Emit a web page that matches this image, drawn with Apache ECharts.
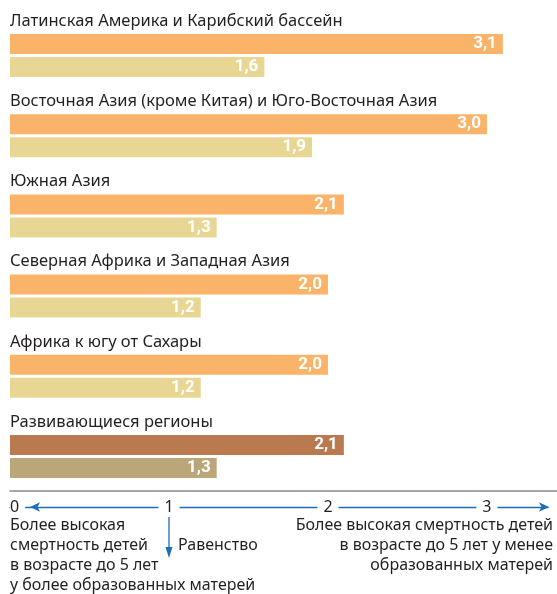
<!DOCTYPE html>
<html>
<head>
<meta charset="utf-8">
<script src="https://cdn.jsdelivr.net/npm/echarts@6/dist/echarts.min.js"></script>
<style>
  html, body { margin: 0; padding: 0; background: #fff; }
  #chart { width: 557px; height: 594px; }
</style>
</head>
<body>
<div id="chart"></div>
<script>
const categories = [
  'Латинская Америка и Карибский бассейн',
  'Восточная Азия (кроме Китая) и Юго-Восточная Азия',
  'Южная Азия',
  'Северная Африка и Западная Азия',
  'Африка к югу от Сахары',
  'Развивающиеся регионы'
]
// less educated mothers vs. more educated mothers
const lessEducated = [3.1, 3.0, 2.1, 2.0, 2.0, 2.1]
const moreEducated = [1.6, 1.9, 1.3, 1.2, 1.2, 1.3]
const ticks = [0, 1, 2, 3]

const FONT = '"Noto Sans", sans-serif'
const NUM_FONT = '"Liberation Sans Narrow", Roboto, sans-serif'
const BLUE = '#1f6db4'
const INK = '#231f20'

const chart = echarts.init(document.getElementById('chart'))

function fmt(v) {
  return v.toFixed(1).replace('.', ',')
}

function barSeries(name, values, color, lastColor) {
  return {
    name,
    type: 'bar',
    barWidth: 20,
    barGap: '15%',
    data: values.map((v, i) => ({
      value: v,
      itemStyle: { color: i === values.length - 1 ? lastColor : color }
    })),
    label: {
      show: true,
      position: 'insideRight',
      distance: 6,
      color: '#fff',
      fontFamily: NUM_FONT,
      fontWeight: 'bold',
      fontSize: 17,
      formatter: p => fmt(p.value)
    },
    silent: true
  }
}

chart.setOption({
  animation: false,
  grid: [
    { left: 10, right: 9, top: 15.4, height: 481.2 },
    { left: 10, right: 0, top: 491, height: 1 }
  ],
  xAxis: [
    {
      gridIndex: 0,
      type: 'value',
      min: 0,
      max: 3.384,
      interval: 1,
      position: 'bottom',
      offset: 10.4,
      splitLine: { show: false },
      axisTick: { show: false },
      axisLine: {
        show: true,
        symbol: ['arrow', 'arrow'],
        symbolSize: [7, 10],
        symbolOffset: [20, 1],
        lineStyle: { color: BLUE, width: 1.3 }
      },
      axisLabel: {
        showMaxLabel: false,
        alignMinLabel: 'left',
        margin: 0,
        verticalAlign: 'middle',
        formatter: v => (ticks.includes(v) ? (v === 0 ? '{z|0}' : '{n|' + v + '}') : ''),
        rich: {
          z: { fontFamily: FONT, fontSize: 16, color: INK, backgroundColor: '#fff', padding: [2, 6, 2, 0] },
          n: { fontFamily: FONT, fontSize: 16, color: INK, backgroundColor: '#fff', padding: [2, 6, 2, 6] }
        }
      }
    },
    {
      gridIndex: 1,
      type: 'value',
      position: 'top',
      axisLine: { show: true, lineStyle: { color: '#8a8a8a', width: 1.5 } },
      axisLabel: { show: false },
      axisTick: { show: false },
      splitLine: { show: false }
    }
  ],
  yAxis: [
    {
      gridIndex: 0,
      type: 'category',
      data: categories,
      inverse: true,
      axisLine: { show: false },
      axisTick: { show: false },
      axisLabel: {
        inside: true,
        margin: 0,
        align: 'left',
        verticalAlign: 'bottom',
        padding: [0, 0, 26, 0],
        fontFamily: FONT,
        fontSize: 16.5,
        color: INK
      }
    },
    { gridIndex: 1, type: 'category', show: false }
  ],
  series: [
    barSeries('Менее образованные матери', lessEducated, '#f9b46a', '#b97a50'),
    barSeries('Более образованные матери', moreEducated, '#e8d794', '#baa679')
  ]
})

// annotations under the axis, placed from the axis scale
const x0 = chart.convertToPixel({ xAxisIndex: 0 }, 0)
const x1 = chart.convertToPixel({ xAxisIndex: 0 }, 1)
const textStyle = { fontFamily: FONT, fontSize: 16, fill: INK, lineHeight: 20 }

chart.setOption({
  graphic: [
    {
      type: 'text',
      x: x0,
      y: 515,
      style: Object.assign({ text: 'Более высокая\nсмертность детей\nв возрасте до 5 лет\nу более образованных матерей', align: 'left' }, textStyle)
    },
    {
      type: 'text',
      x: 553,
      y: 515,
      style: Object.assign({ text: 'Более высокая смертность детей\nв возрасте до 5 лет у менее\nобразованных матерей', align: 'right' }, textStyle)
    },
    {
      type: 'text',
      x: x1 + 9,
      y: 535,
      style: Object.assign({ text: 'Равенство' }, textStyle)
    },
    {
      type: 'line',
      shape: { x1: x1, y1: 517, x2: x1, y2: 550 },
      style: { stroke: BLUE, lineWidth: 1.3 }
    },
    {
      type: 'polygon',
      shape: { points: [[x1 - 3.5, 547], [x1 + 3.5, 547], [x1, 558]] },
      style: { fill: BLUE }
    }
  ]
})
</script>
</body>
</html>
